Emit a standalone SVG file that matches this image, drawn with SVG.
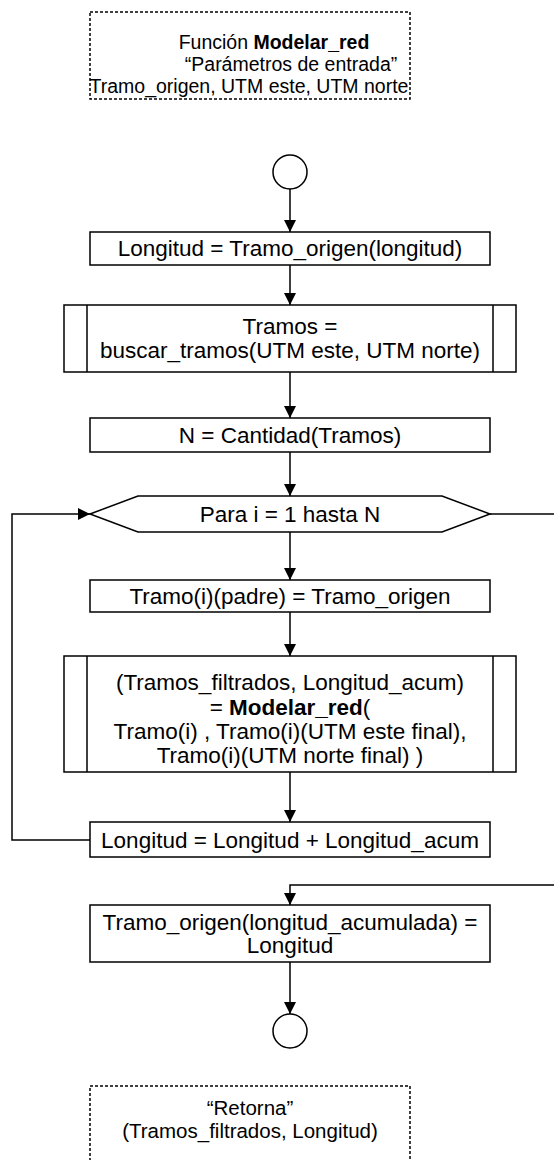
<svg xmlns="http://www.w3.org/2000/svg" width="554" height="1160" viewBox="0 0 554 1160">
<defs>
<marker id="ah" viewBox="0 0 12 12" refX="12" refY="6" markerWidth="12" markerHeight="12" markerUnits="userSpaceOnUse" orient="auto">
<path d="M0,0 L12,6 L0,12 Z" fill="#000"/>
</marker>
<style>
.box{fill:#fff;stroke:#000;stroke-width:1.5}
.dash{fill:#fff;stroke:#000;stroke-width:1.5;stroke-dasharray:3 2}
.ln{fill:none;stroke:#000;stroke-width:1.5}
.t{font-family:"Liberation Sans",Arial,sans-serif;font-size:22.5px;fill:#000;text-anchor:middle}
.s{font-family:"Liberation Sans",Arial,sans-serif;font-size:19.5px;fill:#000;text-anchor:middle}
.r{font-family:"Liberation Sans",Arial,sans-serif;font-size:20.5px;fill:#000;text-anchor:middle}
.b{font-weight:bold}
</style>
</defs>
<rect width="554" height="1160" fill="#fff"/>
<g id="connectors">
<path class="ln" d="M290,189 V232" marker-end="url(#ah)"/>
<path class="ln" d="M290,265 V305" marker-end="url(#ah)"/>
<path class="ln" d="M290,372 V418" marker-end="url(#ah)"/>
<path class="ln" d="M290,452 V496" marker-end="url(#ah)"/>
<path class="ln" d="M290,532 V580" marker-end="url(#ah)"/>
<path class="ln" d="M290,612 V656" marker-end="url(#ah)"/>
<path class="ln" d="M290,772 V822" marker-end="url(#ah)"/>
<path class="ln" d="M90,840 H12 V514 H90" marker-end="url(#ah)"/>
<path class="ln" d="M490,514 H554"/>
<path class="ln" d="M554,885 H290 V905" marker-end="url(#ah)"/>
<path class="ln" d="M290,962 V1014" marker-end="url(#ah)"/>
</g>
<g id="params">
<rect class="dash" x="90" y="12" width="320" height="87"/>
<text class="s" x="274" y="49">Función <tspan class="b">Modelar_red</tspan></text>
<text class="s" x="291" y="71">“Parámetros de entrada”</text>
<text class="s" x="249" y="93">Tramo_origen, UTM este, UTM norte</text>
</g>
<g id="start">
<circle class="box" cx="290" cy="172" r="17"/>
</g>
<g id="longitud">
<rect class="box" x="90" y="232" width="400" height="33"/>
<text class="t" x="290" y="256">Longitud = Tramo_origen(longitud)</text>
</g>
<g id="buscar">
<rect class="box" x="64" y="305" width="452" height="67"/>
<path class="ln" d="M87,305 V372 M493,305 V372"/>
<text class="t" x="290" y="334">Tramos =</text>
<text class="t" x="290" y="358">buscar_tramos(UTM este, UTM norte)</text>
</g>
<g id="cantidad">
<rect class="box" x="90" y="418" width="400" height="34"/>
<text class="t" x="290" y="443">N = Cantidad(Tramos)</text>
</g>
<g id="loop">
<path class="box" d="M90,514 L138,496 H442 L490,514 L442,532 H138 Z"/>
<text class="t" x="290" y="522">Para i = 1 hasta N</text>
</g>
<g id="padre">
<rect class="box" x="90" y="580" width="400" height="32"/>
<text class="t" x="290" y="604">Tramo(i)(padre) = Tramo_origen</text>
</g>
<g id="recursion">
<rect class="box" x="64" y="656" width="452" height="116"/>
<path class="ln" d="M87,656 V772 M493,656 V772"/>
<text class="t" x="290" y="690">(Tramos_filtrados, Longitud_acum)</text>
<text class="t" x="290" y="715">= <tspan class="b">Modelar_red</tspan>(</text>
<text class="t" x="290" y="739">Tramo(i) , Tramo(i)(UTM este final),</text>
<text class="t" x="290" y="763">Tramo(i)(UTM norte final) )</text>
</g>
<g id="suma">
<rect class="box" x="90" y="822" width="400" height="35"/>
<text class="t" x="290" y="848">Longitud = Longitud + Longitud_acum</text>
</g>
<g id="asignar">
<rect class="box" x="90" y="905" width="400" height="57"/>
<text class="t" x="290" y="930">Tramo_origen(longitud_acumulada) =</text>
<text class="t" x="290" y="953">Longitud</text>
</g>
<g id="end">
<circle class="box" cx="290" cy="1031" r="17"/>
</g>
<g id="retorno">
<rect class="dash" x="90" y="1086" width="320" height="90"/>
<text class="r" x="250" y="1115">“Retorna”</text>
<text class="r" x="250" y="1138">(Tramos_filtrados, Longitud)</text>
</g>
</svg>
